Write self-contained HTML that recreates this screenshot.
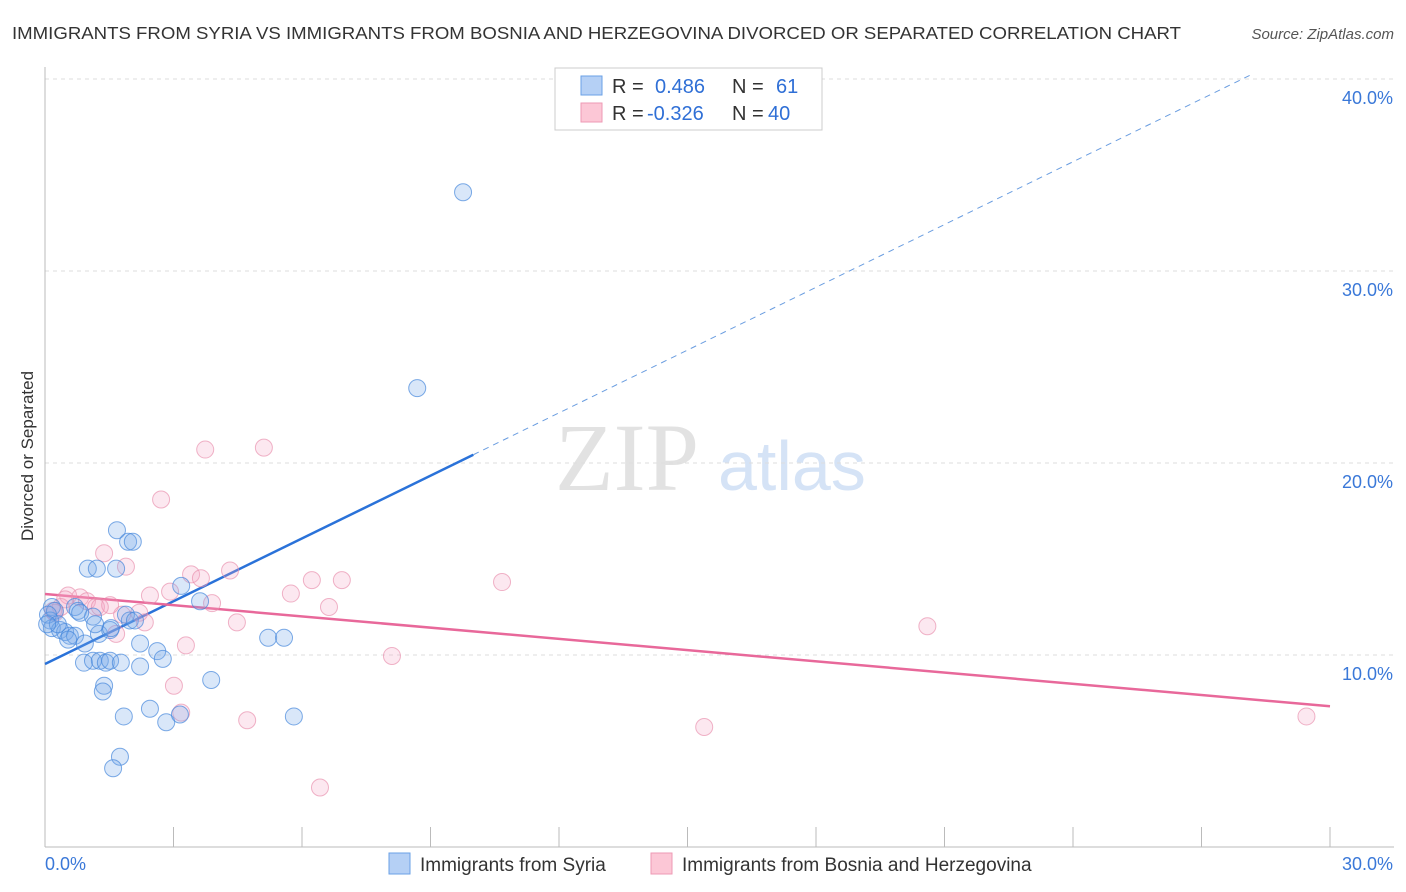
<!DOCTYPE html>
<html><head><meta charset="utf-8"><style>
body{margin:0;background:#fff;font-family:"Liberation Sans",sans-serif;}
svg{display:block}
</style></head><body>
<svg id="chart" width="1406" height="892" xmlns="http://www.w3.org/2000/svg" font-family="Liberation Sans, sans-serif">
<text x="12" y="39" font-size="17.5" fill="#333" textLength="1169" lengthAdjust="spacingAndGlyphs">IMMIGRANTS FROM SYRIA VS IMMIGRANTS FROM BOSNIA AND HERZEGOVINA DIVORCED OR SEPARATED CORRELATION CHART</text>
<text x="1394" y="39" font-size="15" fill="#555" font-style="italic" text-anchor="end">Source: ZipAtlas.com</text>
<text transform="translate(33,456) rotate(-90)" font-size="17" fill="#333" text-anchor="middle">Divorced or Separated</text>
<g><text x="555" y="490" font-size="96" font-family="Liberation Serif, serif" fill="#e2e2e2">ZIP</text><text x="718" y="490" font-size="70" fill="#d5e3f6">atlas</text></g>
<g id="grid"></g><g id="lines"></g><g id="pts"></g>
<g>
<rect x="555" y="68" width="267" height="62" fill="#fff" stroke="#ccc"/>
<rect x="581" y="76" width="21" height="19" fill="#b5d0f5" stroke="#6aa0e6"/>
<rect x="581" y="103" width="21" height="19" fill="#fcc7d6" stroke="#ee9ab4"/>
<text x="612" y="93" font-size="20" fill="#333">R =</text><text x="655" y="93" font-size="20" fill="#2f6fd6">0.486</text>
<text x="732" y="93" font-size="20" fill="#333">N =</text><text x="776" y="93" font-size="20" fill="#2f6fd6">61</text>
<text x="612" y="120" font-size="20" fill="#333">R =</text><text x="647" y="120" font-size="20" fill="#2f6fd6">-0.326</text>
<text x="732" y="120" font-size="20" fill="#333">N =</text><text x="768" y="120" font-size="20" fill="#2f6fd6">40</text>
</g>
<g>
<rect x="389" y="853" width="21" height="21" fill="#b5d0f5" stroke="#6aa0e6"/>
<text x="420" y="871" font-size="19" fill="#333">Immigrants from Syria</text>
<rect x="651" y="853" width="21" height="21" fill="#fcc7d6" stroke="#ee9ab4"/>
<text x="682" y="871" font-size="19" fill="#333">Immigrants from Bosnia and Herzegovina</text>
</g>
</svg>
<script>
const yTicks=[10,20,30,40];
const yTickLabels=["10.0%","20.0%","30.0%","40.0%"];
const xTickLabels=["0.0%","30.0%"];
const syriaX=[9.76,8.69,1.68,1.94,2.05,1.0,1.21,1.66,3.18,3.62,0.16,0.23,0.7,0.77,1.12,1.89,1.98,0.12,0.16,0.35,0.47,0.58,0.7,0.54,1.26,1.52,2.22,0.93,5.21,5.58,2.62,2.75,0.91,1.12,1.28,1.42,1.52,1.77,2.22,1.38,1.35,3.88,1.84,2.45,2.83,3.15,5.81,1.75,1.59,0.07,0.3,0.05,0.82,1.54,2.1,1.17];
const syriaY=[34.1,23.9,16.5,15.9,15.9,14.5,14.5,14.5,13.6,12.8,12.5,12.3,12.5,12.3,12.0,12.1,11.8,11.8,11.4,11.3,11.2,11.0,11.0,10.8,11.1,11.3,10.6,10.6,10.9,10.9,10.2,9.8,9.6,9.7,9.7,9.6,9.7,9.6,9.4,8.4,8.1,8.7,6.8,7.2,6.5,6.9,6.8,4.7,4.1,12.1,11.6,11.6,12.2,11.4,11.8,11.6];
const bosniaX=[3.74,5.11,2.71,1.38,1.89,4.32,3.41,3.64,6.23,6.93,10.67,2.92,2.45,5.74,0.54,0.82,0.98,3.9,0.37,1.19,2.2,6.63,0.19,1.8,4.48,2.33,20.6,1.66,3.29,8.1,3.01,3.18,4.72,15.39,29.45,6.42,0.47,1.52,0.23,1.28];
const bosniaY=[20.7,20.8,18.1,15.3,14.6,14.4,14.2,14.0,13.9,13.9,13.8,13.3,13.1,13.2,13.1,13.0,12.8,12.7,12.5,12.5,12.2,12.5,12.3,12.1,11.7,11.7,11.5,11.1,10.5,9.95,8.4,7.0,6.6,6.25,6.8,3.1,12.9,12.6,12.2,12.5];
const syriaTrend=[9.53,1.09]; // intercept, slope
const bosniaTrend=[13.18,-0.195];
const NS="http://www.w3.org/2000/svg";
const X=v=>45+v/30*1285, Y=v=>847-v*19.2;
function mk(tag,attrs,parent){const e=document.createElementNS(NS,tag);for(const k in attrs)e.setAttribute(k,attrs[k]);parent.appendChild(e);return e;}
const grid=document.getElementById('grid'),lines=document.getElementById('lines'),pts=document.getElementById('pts');
yTicks.forEach((t,i)=>{
 const g=mk('line',{x1:45,x2:1394,y1:Y(t),y2:Y(t),stroke:'#ddd','stroke-dasharray':'4,4'},grid);
 
 
 const l=mk('text',{x:1393,y:Y(t)+25,'font-size':18,fill:'#3a78d8','text-anchor':'end'},grid);l.textContent=yTickLabels[i];
 
 
});
const ax=mk('line',{x1:45,x2:45,y1:67,y2:847,stroke:'#bbb'},grid);


const bx=mk('line',{x1:45,x2:1394,y1:847,y2:847,stroke:'#bbb'},grid);


for(let i=0;i<=10;i++){const t=mk('line',{x1:X(i*3),x2:X(i*3),y1:827,y2:847,stroke:'#bbb'},grid);
 
 }
const xl0=mk('text',{x:45,y:870,'font-size':18,fill:'#3a78d8'},grid);xl0.textContent=xTickLabels[0];


const xl1=mk('text',{x:1393,y:870,'font-size':18,fill:'#3a78d8','text-anchor':'end'},grid);xl1.textContent=xTickLabels[1];


function pt(xs,ys,fill,stroke,name){xs.forEach((x,i)=>{const c=mk('circle',{cx:X(x),cy:Y(ys[i]),r:8.5,fill:fill,stroke:stroke,'stroke-width':1},pts);
 
 });}
pt(bosniaX,bosniaY,'rgba(245,165,195,0.25)','rgba(232,140,170,0.65)','bosnia-point');
pt(syriaX,syriaY,'rgba(120,170,235,0.28)','rgba(70,135,220,0.7)','syria-point');
const s1=mk('line',{x1:X(0),y1:Y(syriaTrend[0]),x2:X(10),y2:Y(syriaTrend[0]+syriaTrend[1]*10),stroke:'#2a72d9','stroke-width':2.5},lines);


const s2=mk('line',{x1:X(10),y1:Y(syriaTrend[0]+syriaTrend[1]*10),x2:X(28.2),y2:Y(syriaTrend[0]+syriaTrend[1]*28.2),stroke:'#6a9de0','stroke-width':1,'stroke-dasharray':'6,5'},lines);


const b1=mk('line',{x1:X(0),y1:Y(bosniaTrend[0]),x2:X(30),y2:Y(bosniaTrend[0]+bosniaTrend[1]*30),stroke:'#e8689a','stroke-width':2.5},lines);


</script>
</body></html>
